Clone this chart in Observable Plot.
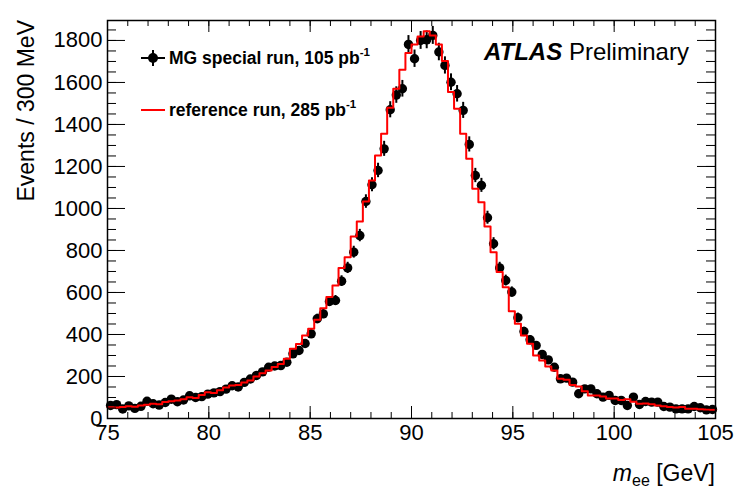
<!DOCTYPE html>
<html><head><meta charset="utf-8">
<script src="https://cdn.jsdelivr.net/npm/d3@7"></script>
<script src="https://cdn.jsdelivr.net/npm/@observablehq/plot@0.6"></script>
<style>
body{margin:0;background:#fff}
svg{font-family:"Liberation Sans",Arial,Helvetica,sans-serif}
</style>
</head><body><div id="chart"></div>
<script>
// Histogram binning: 100 bins of 0.3 GeV from 75 to 105 GeV
const binStart = 75;
const binWidth = 0.3;

// MG special run (data points), events per bin
const dataCounts = [
  62, 66, 45, 60, 48, 58, 82, 70, 64, 76,
  92, 80, 88, 108, 100, 104, 116, 122, 128, 140,
  156, 150, 172, 188, 205, 222, 244, 250, 252, 268,
  308, 324, 357, 403, 475, 498, 557, 562, 654, 717,
  792, 871, 1033, 1113, 1181, 1284, 1470, 1540, 1570, 1781,
  1713, 1800, 1803, 1824, 1745, 1681, 1601, 1546, 1467, 1305,
  1157, 1110, 956, 832, 717, 657, 602, 480, 414, 375,
  348, 305, 279, 244, 189, 192, 173, 118, 141, 141,
  118, 102, 110, 86, 86, 62, 102, 67, 81, 78,
  78, 57, 54, 46, 46, 46, 57, 51, 41, 43
];

// Reference run (red histogram), events per bin
const refCounts = [
  54, 52, 55, 58, 56, 62, 66, 70, 68, 78,
  82, 86, 92, 101, 98, 112, 125, 122, 135, 148,
  157, 160, 172, 181, 200, 215, 228, 245, 260, 285,
  332, 355, 395, 427, 470, 525, 578, 633, 717, 768,
  867, 938, 1033, 1133, 1252, 1356, 1480, 1570, 1660, 1740,
  1781, 1819, 1844, 1824, 1781, 1702, 1554, 1475, 1356, 1237,
  1094, 1030, 914, 792, 697, 625, 511, 451, 395, 356,
  300, 276, 248, 229, 189, 184, 160, 152, 130, 110,
  110, 105, 95, 95, 88, 92, 80, 70, 72, 68,
  62, 58, 55, 52, 55, 46, 46, 44, 43, 42
];

const xTicks = [75, 80, 85, 90, 95, 100, 105];
const xMinorTicks = d3.range(75, 106, 1);
const yTicks = [0, 200, 400, 600, 800, 1000, 1200, 1400, 1600, 1800];
const yMinorTicks = d3.range(0, 1900, 50);
const seriesLabels = ["MG special run, 105 pb", "reference run, 285 pb"];
const yTitle = "Events / 300 MeV";

const bins = dataCounts.map((v, i) => ({
  m: binStart + (i + 0.5) * binWidth,
  v,
  lo: v - Math.sqrt(v),
  hi: v + Math.sqrt(v)
}));
const steps = refCounts.map((v, i) => ({x: binStart + i * binWidth, y: v}))
  .concat([{x: binStart + refCounts.length * binWidth, y: refCounts[refCounts.length - 1]}]);

const W = 736, H = 491, mL = 107, mR = 21, mT = 20, mB = 73;
const innerW = W - mL - mR, innerH = H - mT - mB;

const chart = Plot.plot({
  width: W, height: H,
  marginLeft: mL, marginRight: mR, marginTop: mT, marginBottom: mB,
  x: {domain: [75, 105]},
  y: {domain: [0, 1895]},
  style: {fontFamily: '"Liberation Sans",Arial,Helvetica,sans-serif', background: "white", color: "black"},
  marks: [
    Plot.ruleX(bins, {x: "m", y1: "lo", y2: "hi", stroke: "black", strokeWidth: 2}),
    Plot.dot(bins, {x: "m", y: "v", r: 4.7, fill: "black", stroke: "none"}),
    Plot.line(steps, {x: "x", y: "y", curve: "step-after", stroke: "#ff0000", strokeWidth: 2}),
    // inward ticks on all four sides (ROOT style)
    Plot.tickX(xMinorTicks, {x: d => d, insetTop: innerH - 6, stroke: "black"}),
    Plot.tickX(xTicks, {x: d => d, insetTop: innerH - 12, stroke: "black"}),
    Plot.tickX(xMinorTicks, {x: d => d, insetBottom: innerH - 6, stroke: "black"}),
    Plot.tickX(xTicks, {x: d => d, insetBottom: innerH - 12, stroke: "black"}),
    Plot.tickY(yMinorTicks, {y: d => d, insetRight: innerW - 9, stroke: "black"}),
    Plot.tickY(yTicks, {y: d => d, insetRight: innerW - 18, stroke: "black"}),
    Plot.tickY(yMinorTicks, {y: d => d, insetLeft: innerW - 9, stroke: "black"}),
    Plot.tickY(yTicks, {y: d => d, insetLeft: innerW - 18, stroke: "black"}),
    Plot.axisX(xTicks, {tickSize: 0, tickPadding: 6, fontSize: 22, label: null, tickFormat: d3.format("d")}),
    Plot.axisY(yTicks, {tickSize: 0, tickPadding: 5, fontSize: 22, label: null, tickFormat: d3.format("d")}),
    Plot.frame({stroke: "black", strokeWidth: 1.5})
  ]
});

document.getElementById("chart").appendChild(chart);

const svg = d3.select(chart);
const font = '"Liberation Sans",Arial,Helvetica,sans-serif';

// y-axis title
svg.append("text")
  .attr("transform", `translate(34,${mT}) rotate(-90)`)
  .attr("text-anchor", "end")
  .attr("font-size", 23).attr("font-family", font).attr("fill", "black")
  .text(yTitle);

// x-axis title: m_ee [GeV]
const xt = svg.append("text")
  .attr("x", W - mR).attr("y", 481)
  .attr("text-anchor", "end")
  .attr("font-size", 23).attr("font-family", font).attr("fill", "black");
xt.append("tspan").attr("font-style", "italic").text("m");
xt.append("tspan").attr("font-size", 16).attr("dy", 5).text("ee");
xt.append("tspan").attr("dy", -5).text(" [GeV]");

// ATLAS Preliminary
const at = svg.append("text")
  .attr("x", 484).attr("y", 60)
  .attr("text-anchor", "start")
  .attr("font-size", 24).attr("font-family", font).attr("fill", "black");
at.append("tspan").attr("font-weight", "bold").attr("font-style", "italic").text("ATLAS");
at.append("tspan").text(" Preliminary");

// Legend
const legY = [58, 110];
const lg = svg.append("g");
lg.append("line").attr("x1", 141).attr("x2", 165).attr("y1", legY[0]).attr("y2", legY[0])
  .attr("stroke", "black").attr("stroke-width", 2);
lg.append("line").attr("x1", 153).attr("x2", 153).attr("y1", legY[0] - 8).attr("y2", legY[0] + 8)
  .attr("stroke", "black").attr("stroke-width", 2);
lg.append("circle").attr("cx", 153).attr("cy", legY[0]).attr("r", 5).attr("fill", "black");
lg.append("line").attr("x1", 141).attr("x2", 165).attr("y1", legY[1]).attr("y2", legY[1])
  .attr("stroke", "#ff0000").attr("stroke-width", 2);
seriesLabels.forEach((s, i) => {
  const t = lg.append("text")
    .attr("x", 169).attr("y", legY[i] + 6)
    .attr("text-anchor", "start")
    .attr("font-size", 17.5).attr("font-weight", "bold").attr("font-family", font).attr("fill", "black");
  t.append("tspan").text(s);
  t.append("tspan").attr("font-size", 11.5).attr("dy", -8).text("-1");
});
</script>
</body></html>
